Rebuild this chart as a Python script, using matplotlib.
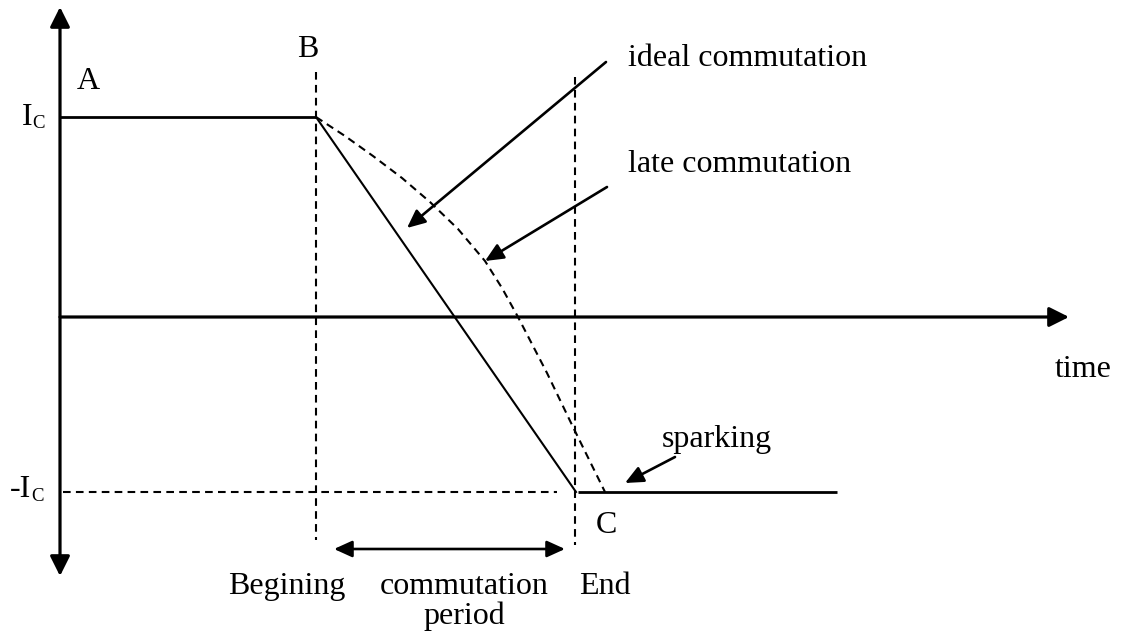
import numpy as np
import matplotlib
matplotlib.use("Agg")
import matplotlib.pyplot as plt

plt.rcParams['font.family'] = ['Liberation Serif', 'DejaVu Serif']
plt.rcParams['lines.scale_dashes'] = False

# current levels (arbitrary units, axis at 0)
ic_pos = 200
ic_neg = -175

# time marks
t_begin = 256
t_end = 516
t_stop = 777
t_axis_end = 1009

# ideal commutation: flat at Ic, linear drop to -Ic
ideal_t = [0, t_begin, t_end]
ideal_i = [ic_pos, ic_pos, ic_neg]

# after commutation
after_t = [t_end + 2, t_stop]
after_i = [ic_neg, ic_neg]

# late commutation
late_t = [256, 285, 313, 342, 370, 398, 425, 442, 458, 487, 513, 545]
late_i = [200, 181, 161, 139, 115, 88, 56, 29, 0, -56, -110, -175]

fs = 23
black = 'black'
dash = (0, (5.5, 3.8))

fig = plt.figure(figsize=(11.25, 6.41), dpi=100)
ax = fig.add_axes([0, 0, 1, 1])
ax.set_xlim(-60, 1065)
ax.set_ylim(-324, 317)
ax.axis('off')

# axes arrows
ax.annotate('', xy=(0, 310), xytext=(0, -259),
            arrowprops=dict(arrowstyle='<|-|>,head_length=1.2,head_width=0.6',
                            mutation_scale=10, lw=2.3, color=black,
                            shrinkA=0, shrinkB=0))
ax.annotate('', xy=(t_axis_end, 0), xytext=(0, 0),
            arrowprops=dict(arrowstyle='-|>,head_length=1.2,head_width=0.6',
                            mutation_scale=10, lw=2.3, color=black,
                            shrinkA=0, shrinkB=0))

# curves
ax.plot(ideal_t[:2], ideal_i[:2], color=black, lw=2.0, solid_capstyle='butt')
ax.plot(ideal_t[1:], ideal_i[1:], color=black, lw=1.5)
ax.plot(after_t, after_i, color=black, lw=2.0, solid_capstyle='butt')
ax.plot(late_t, late_i, color=black, lw=1.5, linestyle=dash)

# dashed guide lines
ax.plot([3, 497], [ic_neg, ic_neg], color=black, lw=1.5, linestyle=dash)
ax.plot([t_begin, t_begin], [245, -223], color=black, lw=1.5, linestyle=dash)
ax.plot([t_end - 1, t_end - 1], [240, -228], color=black, lw=1.5, linestyle=dash)

# pointer arrows
arrow_kw = dict(arrowstyle='-|>,head_length=1.1,head_width=0.5',
                mutation_scale=10, lw=1.9, color=black, shrinkA=0, shrinkB=0)
ax.annotate('', xy=(347, 89), xytext=(546, 255), arrowprops=arrow_kw)
ax.annotate('', xy=(425, 56), xytext=(547, 130), arrowprops=arrow_kw)
ax.annotate('', xy=(565, -166), xytext=(615, -140), arrowprops=arrow_kw)

# commutation period arrow
ax.annotate('', xy=(505, -232), xytext=(274, -232),
            arrowprops=dict(arrowstyle='<|-|>,head_length=1.1,head_width=0.5',
                            mutation_scale=10, lw=1.9, color=black,
                            shrinkA=0, shrinkB=0))

# labels
ax.text(28, 228, 'A', fontsize=fs, ha='center', va='baseline')
ax.text(248, 260, 'B', fontsize=fs, ha='center', va='baseline')
ax.text(546, -216, 'C', fontsize=fs, ha='center', va='baseline')
ax.text(-38, 192, 'I', fontsize=fs, ha='left', va='baseline')
ax.text(-27.5, 189, 'C', fontsize=13.5, ha='left', va='baseline')
ax.text(-50, -180, '-I', fontsize=fs, ha='left', va='baseline')
ax.text(-29, -184, 'C', fontsize=13.5, ha='left', va='baseline')
ax.text(1023, -60, 'time', fontsize=fs, ha='center', va='baseline')
ax.text(568, 251, 'ideal commutation', fontsize=fs, ha='left', va='baseline')
ax.text(568, 145, 'late commutation', fontsize=fs, ha='left', va='baseline')
ax.text(602, -130, 'sparking', fontsize=fs, ha='left', va='baseline')
ax.text(227, -277, 'Begining', fontsize=fs, ha='center', va='baseline')
ax.text(404, -277, 'commutation', fontsize=fs, ha='center', va='baseline')
ax.text(404, -307, 'period', fontsize=fs, ha='center', va='baseline')
ax.text(545, -277, 'End', fontsize=fs, ha='center', va='baseline')

fig.savefig('out.png', dpi=100)
